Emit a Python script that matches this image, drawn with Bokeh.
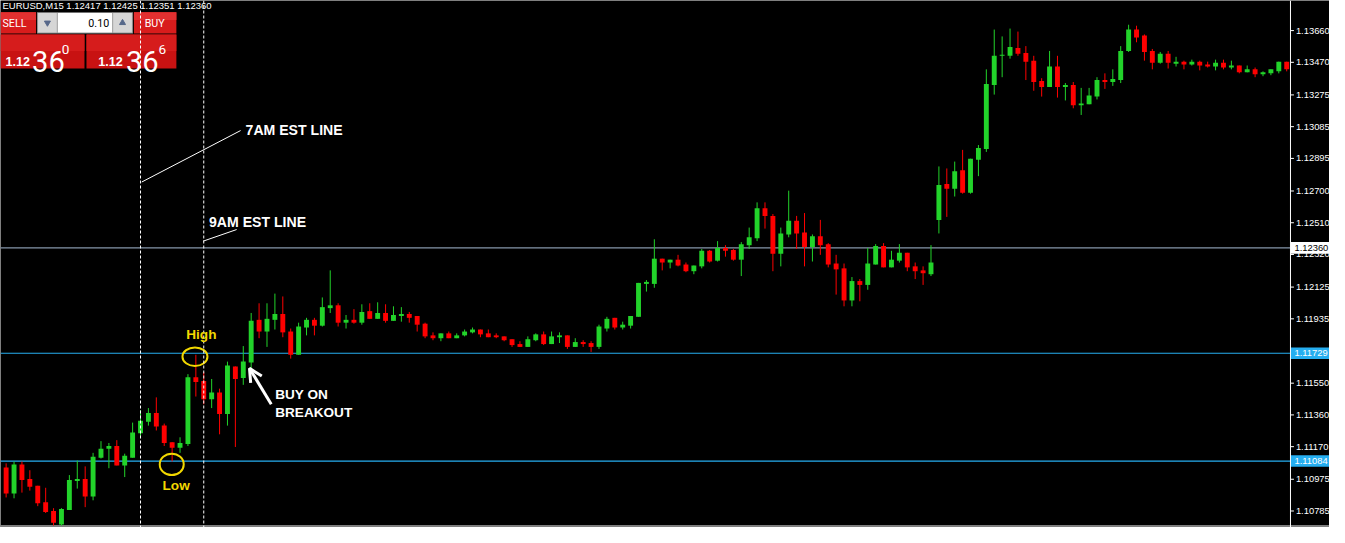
from bokeh.plotting import figure
from bokeh.models import (Range1d, Span, Label, Arrow, OpenHead, ColumnDataSource)
from bokeh.core.properties import value
from bokeh.embed import file_html
from bokeh.resources import INLINE

# ---------------- data (EURUSD, M15) ----------------
opens = [
    1.11046, 1.10890, 1.11064, 1.10977, 1.10936, 1.10837, 1.10785, 1.10704, 1.10791, 1.10965,
    1.10977, 1.10872, 1.11104, 1.11157, 1.11174, 1.11058, 1.11104, 1.11250, 1.11319, 1.11372,
    1.11296, 1.11197, 1.11163, 1.11186, 1.11586, 1.11563, 1.11453, 1.11494, 1.11366, 1.11650,
    1.11581, 1.11674, 1.11929, 1.11859, 1.11929, 1.11964, 1.11859, 1.11720, 1.11883, 1.11929,
    1.11894, 1.11999, 1.12016, 1.11912, 1.11929, 1.11912, 1.11981, 1.11935, 1.11970, 1.11923,
    1.11952, 1.11964, 1.11952, 1.11906, 1.11836, 1.11819, 1.11848, 1.11819, 1.11836, 1.11854,
    1.11871, 1.11848, 1.11836, 1.11830, 1.11813, 1.11784, 1.11767, 1.11807, 1.11842, 1.11784,
    1.11825, 1.11836, 1.11767, 1.11796, 1.11790, 1.11767, 1.11877, 1.11941, 1.11883, 1.11894,
    1.11947, 1.12144, 1.12144, 1.12295, 1.12272, 1.12289, 1.12260, 1.12220, 1.12249, 1.12342,
    1.12283, 1.12359, 1.12347, 1.12289, 1.12376, 1.12417, 1.12597, 1.12551, 1.12324, 1.12440,
    1.12522, 1.12452, 1.12365, 1.12429, 1.12382, 1.12266, 1.12237, 1.12045, 1.12161, 1.12138,
    1.12260, 1.12371, 1.12243, 1.12283, 1.12330, 1.12249, 1.12225, 1.12202, 1.12527, 1.12742,
    1.12713, 1.12824, 1.12690, 1.12887, 1.12951, 1.13335, 1.13509, 1.13509, 1.13555, 1.13526,
    1.13480, 1.13358, 1.13323, 1.13445, 1.13323, 1.13335, 1.13213, 1.13219, 1.13265, 1.13364,
    1.13352, 1.13364, 1.13538, 1.13666, 1.13631, 1.13538, 1.13468, 1.13521, 1.13462, 1.13474,
    1.13457, 1.13474, 1.13457, 1.13445, 1.13468, 1.13439, 1.13451, 1.13410, 1.13428, 1.13399,
    1.13404, 1.13416, 1.13474]

highs = [
    1.11070, 1.11081, 1.11081, 1.11029, 1.10936, 1.10924, 1.10802, 1.10802, 1.11000, 1.11087,
    1.11052, 1.11133, 1.11203, 1.11192, 1.11209, 1.11128, 1.11314, 1.11389, 1.11401, 1.11465,
    1.11308, 1.11197, 1.11226, 1.11604, 1.11720, 1.11616, 1.11575, 1.11517, 1.11679, 1.11650,
    1.11772, 1.11970, 1.12028, 1.12028, 1.12086, 1.12069, 1.11877, 1.11912, 1.11941, 1.11941,
    1.12063, 1.12225, 1.12028, 1.11958, 1.11993, 1.12022, 1.12028, 1.12034, 1.12022, 1.12010,
    1.12005, 1.11976, 1.11952, 1.11912, 1.11854, 1.11848, 1.11859, 1.11848, 1.11871, 1.11883,
    1.11871, 1.11871, 1.11848, 1.11830, 1.11813, 1.11801, 1.11830, 1.11848, 1.11859, 1.11859,
    1.11854, 1.11836, 1.11819, 1.11807, 1.11801, 1.11900, 1.11947, 1.11941, 1.11918, 1.11952,
    1.12150, 1.12167, 1.12411, 1.12295, 1.12289, 1.12318, 1.12272, 1.12254, 1.12353, 1.12347,
    1.12400, 1.12376, 1.12353, 1.12394, 1.12481, 1.12632, 1.12632, 1.12562, 1.12481, 1.12702,
    1.12551, 1.12568, 1.12440, 1.12527, 1.12388, 1.12318, 1.12266, 1.12185, 1.12173, 1.12359,
    1.12382, 1.12388, 1.12342, 1.12382, 1.12330, 1.12272, 1.12249, 1.12376, 1.12847, 1.12835,
    1.12876, 1.12946, 1.12893, 1.12975, 1.13428, 1.13666, 1.13625, 1.13672, 1.13654, 1.13567,
    1.13509, 1.13375, 1.13538, 1.13509, 1.13346, 1.13352, 1.13317, 1.13317, 1.13381, 1.13404,
    1.13428, 1.13567, 1.13695, 1.13689, 1.13637, 1.13550, 1.13532, 1.13538, 1.13503, 1.13480,
    1.13486, 1.13480, 1.13474, 1.13486, 1.13486, 1.13480, 1.13451, 1.13451, 1.13439, 1.13416,
    1.13428, 1.13474, 1.13474]

lows = [
    1.10866, 1.10861, 1.10895, 1.10907, 1.10814, 1.10773, 1.10698, 1.10698, 1.10791, 1.10919,
    1.10808, 1.10849, 1.11099, 1.11041, 1.11058, 1.10988, 1.11104, 1.11221, 1.11296, 1.11267,
    1.11174, 1.11081, 1.11133, 1.11174, 1.11470, 1.11424, 1.11401, 1.11244, 1.11296, 1.11168,
    1.11540, 1.11633, 1.11819, 1.11767, 1.11871, 1.11825, 1.11697, 1.11720, 1.11836, 1.11836,
    1.11889, 1.11970, 1.11889, 1.11877, 1.11906, 1.11900, 1.11935, 1.11935, 1.11912, 1.11923,
    1.11918, 1.11912, 1.11859, 1.11819, 1.11807, 1.11801, 1.11819, 1.11819, 1.11830, 1.11848,
    1.11825, 1.11825, 1.11819, 1.11801, 1.11767, 1.11767, 1.11767, 1.11801, 1.11778, 1.11784,
    1.11790, 1.11755, 1.11767, 1.11767, 1.11737, 1.11755, 1.11859, 1.11871, 1.11871, 1.11877,
    1.11947, 1.12098, 1.12121, 1.12225, 1.12237, 1.12249, 1.12214, 1.12202, 1.12237, 1.12272,
    1.12278, 1.12307, 1.12283, 1.12191, 1.12353, 1.12400, 1.12475, 1.12220, 1.12249, 1.12423,
    1.12353, 1.12249, 1.12278, 1.12318, 1.12243, 1.12080, 1.12010, 1.12010, 1.12040, 1.12109,
    1.12260, 1.12243, 1.12243, 1.12272, 1.12220, 1.12173, 1.12138, 1.12191, 1.12446, 1.12545,
    1.12667, 1.12684, 1.12684, 1.12789, 1.12934, 1.13277, 1.13381, 1.13492, 1.13509, 1.13364,
    1.13300, 1.13265, 1.13323, 1.13259, 1.13242, 1.13195, 1.13155, 1.13219, 1.13248, 1.13311,
    1.13329, 1.13346, 1.13532, 1.13590, 1.13480, 1.13428, 1.13462, 1.13433, 1.13445, 1.13428,
    1.13451, 1.13422, 1.13439, 1.13422, 1.13428, 1.13428, 1.13404, 1.13410, 1.13381, 1.13387,
    1.13393, 1.13404, 1.13416]

closes = [
    1.10890, 1.11064, 1.10971, 1.10930, 1.10831, 1.10779, 1.10715, 1.10797, 1.10971, 1.10977,
    1.10872, 1.11110, 1.11157, 1.11174, 1.11058, 1.11116, 1.11255, 1.11325, 1.11372, 1.11290,
    1.11192, 1.11163, 1.11192, 1.11586, 1.11557, 1.11453, 1.11494, 1.11366, 1.11656, 1.11575,
    1.11679, 1.11923, 1.11859, 1.11935, 1.11964, 1.11854, 1.11720, 1.11889, 1.11929, 1.11894,
    1.12005, 1.12016, 1.11912, 1.11929, 1.11912, 1.11976, 1.11935, 1.11970, 1.11923, 1.11958,
    1.11964, 1.11941, 1.11900, 1.11830, 1.11819, 1.11848, 1.11819, 1.11836, 1.11859, 1.11871,
    1.11842, 1.11825, 1.11825, 1.11807, 1.11778, 1.11767, 1.11813, 1.11842, 1.11784, 1.11830,
    1.11836, 1.11767, 1.11796, 1.11784, 1.11767, 1.11889, 1.11935, 1.11883, 1.11900, 1.11952,
    1.12150, 1.12156, 1.12295, 1.12272, 1.12289, 1.12254, 1.12220, 1.12254, 1.12342, 1.12278,
    1.12359, 1.12342, 1.12289, 1.12382, 1.12423, 1.12597, 1.12551, 1.12324, 1.12446, 1.12522,
    1.12446, 1.12365, 1.12429, 1.12376, 1.12260, 1.12231, 1.12045, 1.12161, 1.12138, 1.12266,
    1.12371, 1.12243, 1.12289, 1.12330, 1.12243, 1.12220, 1.12208, 1.12272, 1.12736, 1.12713,
    1.12818, 1.12690, 1.12893, 1.12957, 1.13341, 1.13509, 1.13515, 1.13561, 1.13521, 1.13474,
    1.13352, 1.13323, 1.13445, 1.13323, 1.13335, 1.13213, 1.13224, 1.13271, 1.13364, 1.13352,
    1.13370, 1.13538, 1.13666, 1.13619, 1.13532, 1.13468, 1.13521, 1.13468, 1.13474, 1.13457,
    1.13474, 1.13451, 1.13445, 1.13468, 1.13439, 1.13451, 1.13410, 1.13428, 1.13399, 1.13410,
    1.13428, 1.13474, 1.13428]

price_ticks = [1.13660, 1.13470, 1.13275, 1.13085, 1.12895, 1.12700, 1.12510, 1.12320,
               1.12125, 1.11935, 1.11745, 1.11550, 1.11360, 1.11170, 1.10975, 1.10785]
bid_level = 1.12360
range_high = 1.11729
range_low = 1.11084
session_bars = [17, 25]          # 7AM and 9AM EST candles
title_text = "EURUSD,M15  1.12417 1.12425 1.12351 1.12360"

# ---------------- geometry helpers (reference pixel -> data) ----------------
def X(px):
    return (px - 5.7) / 8.0

def Y(py):
    return 1.13840 - 0.00005808 * py

SY = 527.0 / 543.0

def fs(sz):
    return "%.1fpx" % (sz * SY)

GREEN = "#22d32a"
RED = "#ff0000"
CYAN = "#26aef0"

n = len(opens)
xs = list(range(n))
tops, bottoms, colors = [], [], []
for o, c in zip(opens, closes):
    t, b = max(o, c), min(o, c)
    if t - b < 0.00006:
        t = b + 0.00006
    tops.append(t)
    bottoms.append(b)
    colors.append(GREEN if c >= o else RED)

src = ColumnDataSource(dict(x=xs, h=highs, l=lows, top=tops, bottom=bottoms, color=colors))

p = figure(width=1329, height=527, output_backend="svg", toolbar_location=None,
           x_range=Range1d(X(0), X(1345)), y_range=Range1d(Y(543), Y(0)),
           x_axis_location=None, y_axis_location=None,
           background_fill_color="black", border_fill_color="black",
           outline_line_color=None, min_border=0)
p.grid.grid_line_color = None

AX = X(1305.5)   # price-scale edge

# level lines (chart part only)
for lv, col in ((bid_level, "#8596aa"), (range_high, CYAN), (range_low, CYAN)):
    p.segment(x0=[X(0)], y0=[lv], x1=[AX], y1=[lv], line_color=col, line_width=1.2)
for sb in session_bars:
    p.add_layout(Span(location=sb, dimension="height", line_color="white",
                      line_dash="3 2", line_width=1))
p.segment(x0=[X(0)], y0=[Y(541.5)], x1=[X(1345)], y1=[Y(541.5)], line_color="#a8a8a8",
          line_width=1.5)

# candles
p.segment(x0="x", y0="l", x1="x", y1="h", line_color="color", line_width=1, source=src)
p.vbar(x="x", width=0.62, top="top", bottom="bottom", fill_color="color",
       line_color=None, source=src)

# ---------------- price scale on the right ----------------
p.add_layout(Span(location=AX, dimension="height", line_color="white", line_width=1))
p.segment(x0=[AX] * len(price_ticks), y0=price_ticks, x1=[X(1309)] * len(price_ticks),
          y1=price_ticks, line_color="white", line_width=1)
p.text(x=[X(1311)] * len(price_ticks), y=price_ticks, text=["%.5f" % t for t in price_ticks],
       text_color="white", text_font=value("Liberation Sans"), text_font_size=value("9.4px"),
       text_baseline="middle", text_align="left")
hl = [(bid_level, "white", "black"), (range_high, CYAN, "white"), (range_low, CYAN, "white")]
half = 6 * 0.00005808
p.quad(left=[X(1306)] * 3, right=[X(1345)] * 3, top=[h[0] + half for h in hl],
       bottom=[h[0] - half for h in hl], fill_color=[h[1] for h in hl], line_color=None)
p.text(x=[X(1309.5)] * 3, y=[h[0] for h in hl], text=["%.5f" % h[0] for h in hl],
       text_color=[h[2] for h in hl], text_font=value("Liberation Sans"),
       text_font_size=value("9.4px"), text_baseline="middle", text_align="left")

# ---------------- top-left trade panel ----------------
quads = [  # left, right, top, bottom, color (reference pixels)
    (0, 36, 12, 34, "#d81c1c"), (0, 36, 12, 20, "#e23030"),
    (37, 134, 12, 34, "#9a9a9a"),
    (38, 57, 13, 33, "#d6d6d6"), (58, 113, 13, 33, "#ffffff"), (114, 133, 13, 33, "#d6d6d6"),
    (135, 178, 12, 34, "#d81c1c"), (135, 178, 12, 20, "#e23030"),
    (0, 85, 35, 70, "#c81212"), (0, 85, 35, 52, "#d61c1c"),
    (87, 178, 35, 70, "#c81212"), (87, 178, 35, 52, "#d61c1c"),
]
p.quad(left=[X(q[0]) for q in quads], right=[X(q[1]) for q in quads],
       top=[Y(q[2]) for q in quads], bottom=[Y(q[3]) for q in quads],
       fill_color=[q[4] for q in quads], line_color=None)
p.scatter(x=[X(47.5)], y=[Y(23)], marker="inverted_triangle", size=6, color="#56688a")
p.scatter(x=[X(123.5)], y=[Y(23)], marker="triangle", size=6, color="#56688a")


def lab(px, py, text, size, color="white", bold=False, align="left",
        baseline="middle", font="Liberation Sans"):
    p.add_layout(Label(x=X(px), y=Y(py), text=text, text_color=color,
                       text_font_size=fs(size), text_font=font,
                       text_font_style="bold" if bold else "normal",
                       text_align=align, text_baseline=baseline))


lab(2, 5, title_text, 9.8)
lab(2, 23.5, "SELL", 11, font="Roboto")
lab(110, 23.5, "0.10", 11, color="black", align="right", font="Roboto")
lab(156, 23.5, "BUY", 11, align="center", font="Roboto")
lab(5, 63, "1.12", 13, bold=True, baseline="alphabetic")
lab(32, 63, "36", 30, baseline="alphabetic", font="Roboto")
lab(62, 50, "0", 14, baseline="alphabetic", font="Roboto")
lab(99, 63, "1.12", 13, bold=True, baseline="alphabetic")
lab(127, 63, "36", 30, baseline="alphabetic", font="Roboto")
lab(160, 50, "6", 14, baseline="alphabetic", font="Roboto")

# ---------------- annotations ----------------
YEL = "#f2d800"
p.segment(x0=[X(143), X(205)], y0=[Y(187), Y(248)], x1=[X(243), X(239)], y1=[Y(134), Y(236)],
          line_color="white", line_width=1)
lab(248, 133, "7AM EST LINE", 14.5, bold=True)
lab(211, 228, "9AM EST LINE", 14.5, bold=True)
lab(188, 344, "High", 14, color=YEL, bold=True)
lab(164, 499.5, "Low", 14, color=YEL, bold=True)
p.ellipse(x=[X(196.8), X(173.3)], y=[Y(367), Y(478)], width=[25, 24], height=[19 * SY, 22 * SY],
          width_units="screen", height_units="screen", fill_color=None,
          line_color=YEL, line_width=2)
p.add_layout(Arrow(end=OpenHead(line_color="white", line_width=3, size=13),
                   x_start=X(274), y_start=Y(416), x_end=X(252), y_end=Y(379),
                   line_color="white", line_width=3))
lab(278, 406, "BUY ON", 14, bold=True)
lab(278, 424, "BREAKOUT", 14, bold=True)

open("out.html", "w").write(file_html(p, INLINE))
